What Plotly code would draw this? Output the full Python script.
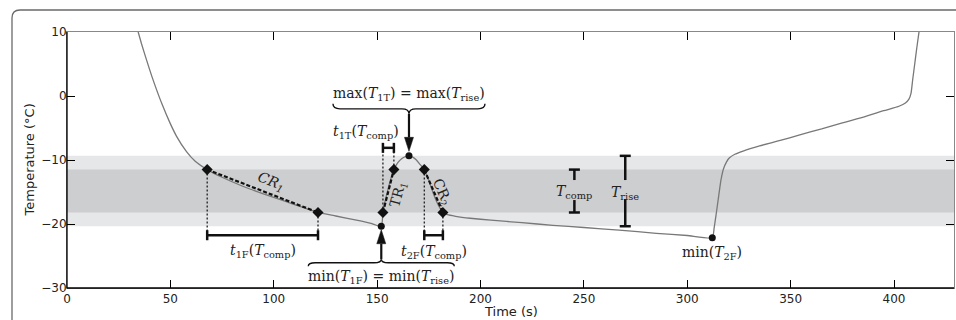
import plotly.graph_objects as go

# ---------------- data ----------------
time_s = [33.9, 36.0, 38.5, 41.0, 43.3, 46.0, 49.8, 53.0, 57.8, 62.0, 67.8,
          75.0, 85.0, 95.0, 105.0, 113.0, 121.4, 130.0, 140.0, 147.0, 152.0,
          152.8, 155.0, 158.1, 160.0, 162.0, 164.0, 165.4, 167.0, 169.0, 170.5,
          172.8, 175.0, 177.5, 180.0, 181.8, 184.0, 188.0, 195.0, 205.0, 220.0,
          235.0, 250.0, 267.0, 285.0, 300.0, 312.1, 313.0, 314.0, 315.2, 316.3,
          317.5, 319.0, 320.3, 323.0, 327.0, 335.0, 345.0, 354.0, 365.0, 375.0,
          386.0, 395.0, 402.4, 405.5, 407.2, 408.2, 409.0, 410.0, 411.0, 412.5]
temp_c = [10.6, 8.2, 5.6, 3.1, 1.0, -1.3, -4.2, -6.3, -8.7, -10.2, -11.5,
          -12.7, -14.1, -15.3, -16.4, -17.3, -18.2, -18.75, -19.4, -19.9, -20.35,
          -18.2, -14.9, -11.5, -10.4, -9.75, -9.42, -9.35, -9.5, -10.0, -10.6,
          -11.5, -13.2, -15.5, -17.3, -18.2, -18.55, -18.8, -19.1, -19.4, -19.8,
          -20.2, -20.55, -20.95, -21.45, -21.8, -22.15, -20.6, -18.4, -15.6, -13.1,
          -11.4, -10.3, -9.7, -9.1, -8.6, -7.8, -6.95, -6.1, -5.15, -4.2,
          -3.24, -2.3, -1.6, -1.1, -0.5, 0.4, 2.5, 5.0, 7.5, 11.0]

# characteristic segments (diamond end points)
cr1_time = [67.8, 121.4]
cr1_temp = [-11.5, -18.2]
tr1_time = [152.8, 158.1]
tr1_temp = [-18.2, -11.5]
cr2_time = [172.8, 181.8]
cr2_temp = [-11.5, -18.2]

# extrema: min(T1F), max(T1T), min(T2F)
ext_time = [152.0, 165.4, 312.1]
ext_temp = [-20.35, -9.35, -22.15]

# temperature bands
t_comp_band = [-18.2, -11.5]
t_rise_band = [-20.35, -9.35]

# label positions for the two I-beam indicators (time axis)
t_comp_label_time = 245.4
t_rise_label_time = 270.0

x_ticks = [0, 50, 100, 150, 200, 250, 300, 350, 400]
y_ticks = [-30, -20, -10, 0, 10]
x_range = [0, 429]
y_range = [-30, 10]

# ---------------- geometry helpers ----------------
W, H = 956, 320
ML, MR, MT, MB = 67, 2, 32, 32
PW, PH = W - ML - MR, H - MT - MB
SX = PW / (x_range[1] - x_range[0])
SY = PH / (y_range[1] - y_range[0])


def dx(px):
    return px / SX


def dy(px):
    return px / SY


BLACK = "#111111"
SERIF = "DejaVu Serif"
SANS = "DejaVu Sans"

fig = go.Figure()
shapes = []
annotations = []

# bands
shapes.append(dict(type="rect", xref="paper", yref="y", x0=0, x1=1,
                   y0=t_rise_band[0], y1=t_rise_band[1], fillcolor="#e6e7e9",
                   line=dict(width=0), layer="below"))
shapes.append(dict(type="rect", xref="paper", yref="y", x0=0, x1=1,
                   y0=t_comp_band[0], y1=t_comp_band[1], fillcolor="#cdcecf",
                   line=dict(width=0), layer="below"))

# main curve
fig.add_trace(go.Scatter(x=time_s, y=temp_c, mode="lines",
                         line=dict(color="#787878", width=1.3, shape="spline",
                                   smoothing=0.5),
                         hoverinfo="skip", showlegend=False))

# dotted verticals to brackets
low_level = t_rise_band[0] - dy(9)
high_level = t_rise_band[1] + dy(8)
dot_x, dot_y = [], []
for tt, TT, lev in [(cr1_time[0], cr1_temp[0], low_level),
                    (cr1_time[1], cr1_temp[1], low_level),
                    (tr1_time[0], tr1_temp[0], high_level),
                    (tr1_time[1], tr1_temp[1], high_level),
                    (cr2_time[0], cr2_temp[0], low_level),
                    (cr2_time[1], cr2_temp[1], low_level)]:
    dot_x += [tt, tt, None]
    dot_y += [TT, lev, None]
fig.add_trace(go.Scatter(x=dot_x, y=dot_y, mode="lines",
                         line=dict(color=BLACK, width=1.2, dash="2px,2px"),
                         hoverinfo="skip", showlegend=False))

# dashed chords
for xs, ys in [(cr1_time, cr1_temp), (tr1_time, tr1_temp), (cr2_time, cr2_temp)]:
    fig.add_trace(go.Scatter(x=xs, y=ys, mode="lines",
                             line=dict(color=BLACK, width=2.2, dash="4px,2px"),
                             hoverinfo="skip", showlegend=False))

# brackets with end caps
br_x, br_y = [], []
cap = dy(5)
for (a, b), lev in [((cr1_time[0], cr1_time[1]), low_level),
                    ((tr1_time[0], tr1_time[1]), high_level),
                    ((cr2_time[0], cr2_time[1]), low_level)]:
    br_x += [a, b, None, a, a, None, b, b, None]
    br_y += [lev, lev, None, lev - cap, lev + cap, None, lev - cap, lev + cap, None]

# I-beams for T_comp and T_rise
ib = dx(5.5)
for xc, (lo, hi), gap_top, gap_bot in [
        (t_comp_label_time, t_comp_band, dy(11), dy(9)),
        (t_rise_label_time, t_rise_band, dy(11), dy(8))]:
    mid = (lo + hi) / 2
    br_x += [xc - ib, xc + ib, None, xc, xc, None,
             xc, xc, None, xc - ib, xc + ib, None]
    br_y += [hi, hi, None, hi, mid + gap_top, None,
             mid - gap_bot, lo, None, lo, lo, None]
fig.add_trace(go.Scatter(x=br_x, y=br_y, mode="lines",
                         line=dict(color=BLACK, width=2.5),
                         hoverinfo="skip", showlegend=False))

# diamonds
fig.add_trace(go.Scatter(x=cr1_time + tr1_time + cr2_time,
                         y=cr1_temp + tr1_temp + cr2_temp, mode="markers",
                         marker=dict(symbol="diamond", size=8.5, color=BLACK),
                         hoverinfo="skip", showlegend=False))
# extrema dots
fig.add_trace(go.Scatter(x=ext_time, y=ext_temp, mode="markers",
                         marker=dict(symbol="circle", size=7, color=BLACK),
                         hoverinfo="skip", showlegend=False))


# curly braces + arrows
def brace(xc, half, y_end, y_mid, y_tip):
    c = dx(7)
    x1, x2 = xc - half, xc + half
    return (f"M {x1},{y_end} Q {x1},{y_mid} {x1 + c},{y_mid} "
            f"L {xc - c},{y_mid} Q {xc},{y_mid} {xc},{y_tip} "
            f"Q {xc},{y_mid} {xc + c},{y_mid} L {x2 - c},{y_mid} "
            f"Q {x2},{y_mid} {x2},{y_end}")


def arrow(xc, y_from, y_to, sign):
    # sign = -1 for downward arrow, +1 for upward
    hl, hw = dy(14), dx(4.5)
    base = y_to - sign * hl
    shapes.append(dict(type="line", xref="x", yref="y", x0=xc, x1=xc,
                       y0=y_from, y1=base, line=dict(color=BLACK, width=2.2)))
    shapes.append(dict(type="path", xref="x", yref="y",
                       path=f"M {xc - hw},{base} L {xc},{y_to} L {xc + hw},{base} Z",
                       fillcolor=BLACK, line=dict(color=BLACK, width=0.5)))


# max brace (above the max point, pointing down)
mx, my = ext_time[1], ext_temp[1]
shapes.append(dict(type="path", xref="x", yref="y",
                   path=brace(mx, dx(76), my + dy(52), my + dy(47), my + dy(42)),
                   line=dict(color=BLACK, width=1.4)))
arrow(mx, my + dy(42), my + dy(4.5), -1)
annotations.append(dict(x=mx, y=my + dy(62), xref="x", yref="y",
                        text="max(<i>T</i><sub>1T</sub>) = max(<i>T</i><sub>rise</sub>)",
                        showarrow=False))

# min brace (below the min point, pointing up)
nx, ny = ext_time[0], ext_temp[0]
shapes.append(dict(type="path", xref="x", yref="y",
                   path=brace(nx, dx(73), ny - dy(40), ny - dy(36.5), ny - dy(33)),
                   line=dict(color=BLACK, width=1.4)))
arrow(nx, ny - dy(33), ny - dy(3.5), 1)
annotations.append(dict(x=nx, y=ny - dy(50.5), xref="x", yref="y",
                        text="min(<i>T</i><sub>1F</sub>) = min(<i>T</i><sub>rise</sub>)",
                        showarrow=False))

# other labels
annotations += [
    dict(x=(cr1_time[0] + cr1_time[1]) / 2, y=low_level - dy(16),
         text="<i>t</i><sub>1F</sub>(<i>T</i><sub>comp</sub>)"),
    dict(x=(cr2_time[0] + cr2_time[1]) / 2, y=low_level - dy(17),
         text="<i>t</i><sub>2F</sub>(<i>T</i><sub>comp</sub>)"),
    dict(x=(tr1_time[0] + tr1_time[1]) / 2 - dx(22), y=high_level + dy(16),
         text="<i>t</i><sub>1T</sub>(<i>T</i><sub>comp</sub>)"),
    dict(x=ext_time[2], y=ext_temp[2] - dy(15),
         text="min(<i>T</i><sub>2F</sub>)"),
    dict(x=cr1_time[0] + 0.58 * (cr1_time[1] - cr1_time[0]),
         y=cr1_temp[0] + 0.58 * (cr1_temp[1] - cr1_temp[0]) + dy(12),
         text="<i>CR</i><sub><i>1</i></sub>", textangle=21),
    dict(x=(tr1_time[0] + tr1_time[1]) / 2 + dx(10),
         y=(tr1_temp[0] + tr1_temp[1]) / 2 + dy(-3),
         text="TR<sub>1</sub>", textangle=-75),
    dict(x=(cr2_time[0] + cr2_time[1]) / 2 + dx(8),
         y=(cr2_temp[0] + cr2_temp[1]) / 2 + dy(-1),
         text="CR<sub>2</sub>", textangle=66),
    dict(x=t_comp_label_time, y=(t_comp_band[0] + t_comp_band[1]) / 2 - dy(1),
         text="<i>T</i><sub>comp</sub>"),
    dict(x=t_rise_label_time, y=(t_rise_band[0] + t_rise_band[1]) / 2 - dy(2),
         text="<i>T</i><sub>rise</sub>"),
]
for a in annotations:
    a.setdefault("xref", "x")
    a.setdefault("yref", "y")
    a["showarrow"] = False
    a["font"] = dict(family=SERIF, size=14, color="#222222")

# axis titles (as paper annotations for exact placement)
annotations.append(dict(x=0.5, y=-23 / PH, xref="paper", yref="paper",
                        text="Time (s)", showarrow=False, xanchor="center",
                        yanchor="middle",
                        font=dict(family=SANS, size=13, color="#222222")))
annotations.append(dict(x=-38.5 / PW, y=0.5, xref="paper", yref="paper",
                        text="Temperature (°C)", showarrow=False, textangle=-90,
                        xanchor="center", yanchor="middle",
                        font=dict(family=SANS, size=13, color="#222222")))

# outer rounded frame (only the top-left corner is visible)
fl = (12 - ML) / PW
ft = (MT + PH - 10) / PH
fr = (W + 20 - ML) / PW
fb = -(MB + 20) / PH
rx, ry = 8 / PW, 8 / PH
shapes.append(dict(type="path", xref="paper", yref="paper",
                   path=(f"M {fr},{ft} L {fl + rx},{ft} Q {fl},{ft} {fl},{ft - ry} "
                         f"L {fl},{fb}"),
                   line=dict(color="#6a6a6a", width=1.3)))

# black left / bottom spines (top / right are grey)
shapes.append(dict(type="line", xref="paper", yref="paper", x0=0, x1=0, y0=0, y1=1,
                   line=dict(color="black", width=1.3)))
shapes.append(dict(type="line", xref="paper", yref="paper", x0=0, x1=1, y0=0, y1=0,
                   line=dict(color="black", width=1.3)))

axis_common = dict(ticks="inside", ticklen=8, tickwidth=1, tickcolor="black",
                   showline=True, linecolor="#888888", linewidth=1, mirror="ticks",
                   showgrid=False, zeroline=False,
                   tickfont=dict(family=SANS, size=12, color="#222222"))

fig.update_layout(
    width=W, height=H,
    margin=dict(l=ML, r=MR, t=MT, b=MB, autoexpand=False),
    paper_bgcolor="white", plot_bgcolor="white",
    showlegend=False,
    shapes=shapes, annotations=annotations,
    xaxis=dict(range=x_range, tickvals=x_ticks, automargin=False, **axis_common),
    yaxis=dict(range=y_range, tickvals=y_ticks, automargin=False,
               ticklabelstandoff=-3, **axis_common),
)

fig.write_html(
    "out.html",
    config={"displayModeBar": False},
    post_script=("document.body.style.margin='0';"
                 "document.body.style.overflow='hidden';"
                 "document.documentElement.style.overflow='hidden';"),
)
